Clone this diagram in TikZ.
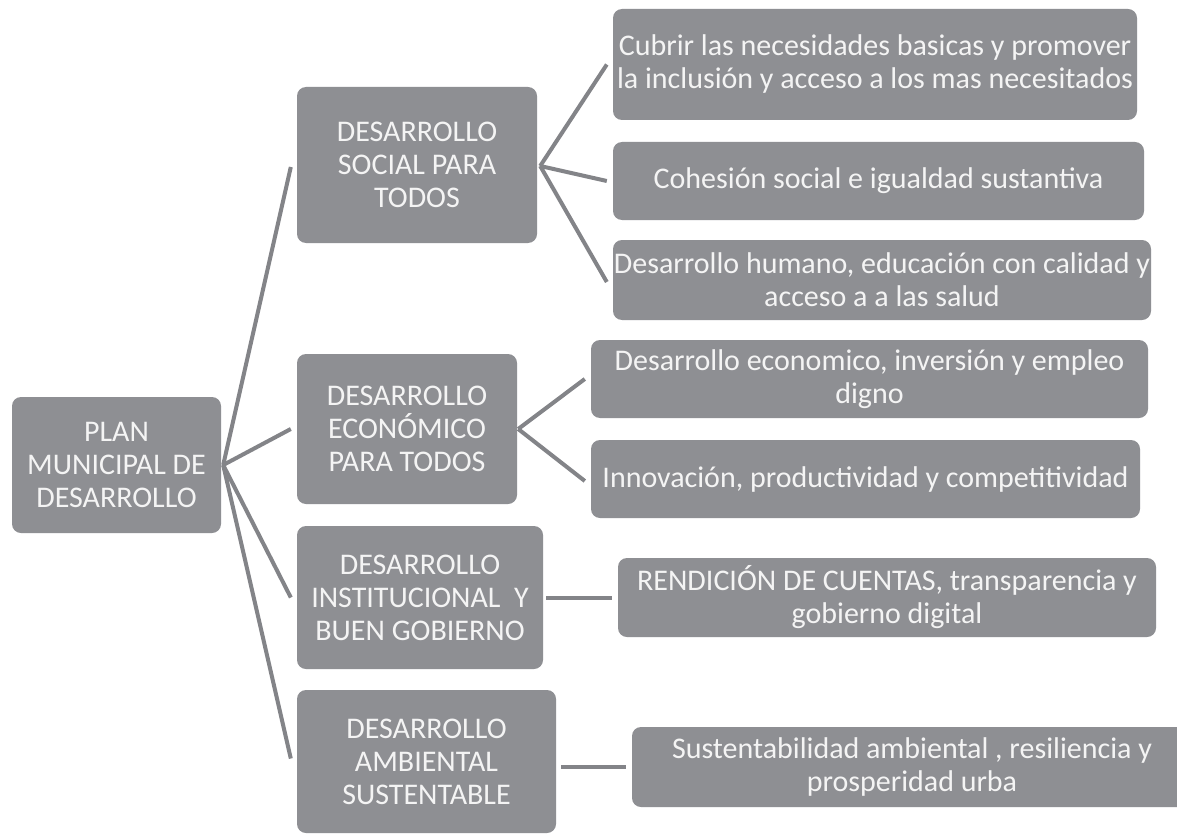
\documentclass[tikz,border=0pt]{standalone}
\usepackage{fontspec}
\setmainfont{Carlito}
\definecolor{boxgray}{HTML}{8E8F93}
\definecolor{linegray}{HTML}{838488}
\definecolor{txt}{HTML}{F4F4F4}
\begin{document}
\begin{tikzpicture}[x=1pt,y=-1pt,
  box/.style={draw=none, fill=boxgray, rounded corners=9pt, text=txt, align=center, inner sep=0pt,
    font=\fontsize{30}{33}\selectfont},
  conn/.style={draw=linegray, line width=4pt}]
\useasboundingbox (0,0) rectangle (1177,837);
\fill[white] (0,0) rectangle (1177,837);
% level 1
\node[box, minimum width=209pt, minimum height=136pt] (root) at (116.5,465) {PLAN\\MUNICIPAL DE\\DESARROLLO};
% level 2
\node[box, minimum width=240pt, minimum height=156pt] (soc) at (417,165) {DESARROLLO\\SOCIAL PARA\\TODOS};
\node[box, minimum width=220pt, minimum height=150pt] (eco) at (407,429) {DESARROLLO\\ECONÓMICO\\PARA TODOS};
\node[box, minimum width=246pt, minimum height=143pt] (ins) at (420,597.5) {DESARROLLO\\INSTITUCIONAL\ \ Y\\BUEN GOBIERNO};
\node[box, minimum width=259pt, minimum height=143pt] (amb) at (426.5,761.5) {DESARROLLO\\AMBIENTAL\\SUSTENTABLE};
% level 3
\node[box, minimum width=524pt, minimum height=111pt] (cub) at (875,64.5) {Cubrir las necesidades basicas y promover\\la inclusión y acceso a los mas necesitados};
\node[box, minimum width=531pt, minimum height=78pt] (coh) at (878.5,181) {Cohesión social e igualdad sustantiva};
\node[box, minimum width=538pt, minimum height=80pt] (hum) at (882,280) {Desarrollo humano, educación con calidad y\\acceso a a las salud};
\node[box, minimum width=557pt, minimum height=78pt] (ecor) at (869.5,379) {Desarrollo economico, inversión y empleo\\digno};
\node[box, minimum width=549pt, minimum height=78pt] (inn) at (865.5,479) {Innovación, productividad y competitividad};
\node[box, minimum width=538pt, minimum height=79pt] (ren) at (887,597.5) {RENDICIÓN DE CUENTAS, transparencia y\\gobierno digital};
\node[box, minimum width=560pt, minimum height=80pt] (sus) at (912,767) {Sustentabilidad ambiental , resiliencia y\\prosperidad urba};
% connectors
\coordinate (j0) at ([xshift=2pt]root.east);
\draw[conn] (j0) -- ([xshift=-6pt,yshift=-2pt]soc.west);
\draw[conn] (j0) -- ([xshift=-6pt]eco.west);
\draw[conn] (j0) -- ([xshift=-6pt]ins.west);
\draw[conn] (j0) -- ([xshift=-6pt,yshift=3pt]amb.west);
\coordinate (j1) at ([xshift=3pt,yshift=-1pt]soc.east);
\draw[conn] (j1) -- ([xshift=-6pt]cub.west);
\draw[conn] (j1) -- ([xshift=-6pt]coh.west);
\draw[conn] (j1) -- ([xshift=-6pt,yshift=-2pt]hum.west);
\coordinate (j2) at ([xshift=1pt]eco.east);
\draw[conn] (j2) -- ([xshift=-6pt]ecor.west);
\draw[conn] (j2) -- ([xshift=-6pt,yshift=-2pt]inn.west);
\draw[conn] ([xshift=3pt]ins.east) -- ([xshift=-6pt]ren.west);
\draw[conn] ([xshift=5pt]amb.east |- sus.west) -- ([xshift=-6pt]sus.west);
\end{tikzpicture}
\end{document}
